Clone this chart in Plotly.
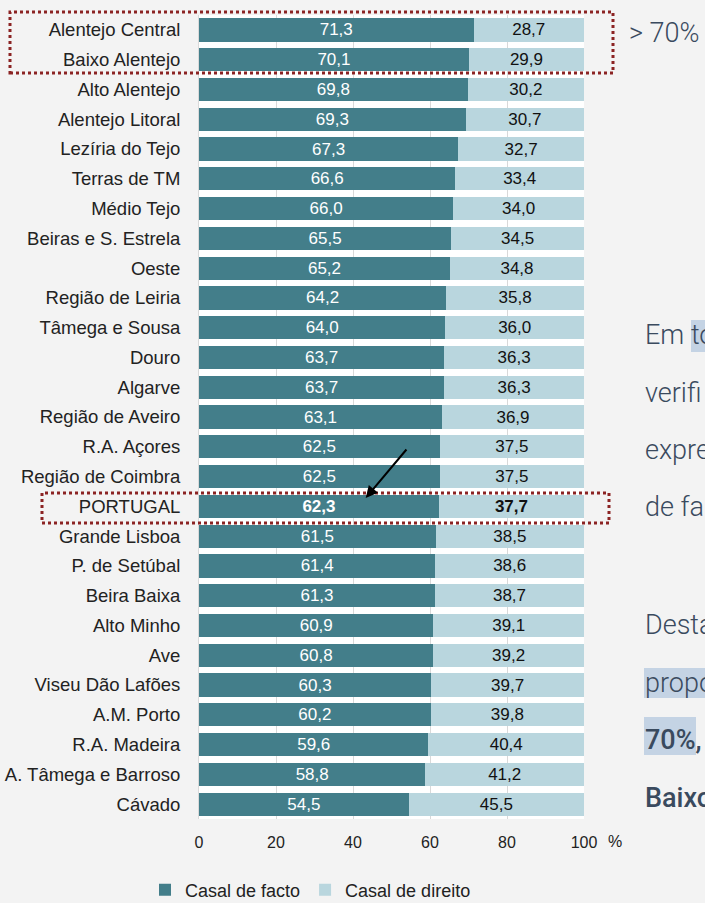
import plotly.graph_objects as go

regions = ["Alentejo Central", "Baixo Alentejo", "Alto Alentejo", "Alentejo Litoral",
           "Lezíria do Tejo", "Terras de TM", "Médio Tejo", "Beiras e S. Estrela", "Oeste",
           "Região de Leiria", "Tâmega e Sousa", "Douro", "Algarve", "Região de Aveiro",
           "R.A. Açores", "Região de Coimbra", "PORTUGAL", "Grande Lisboa", "P. de Setúbal",
           "Beira Baixa", "Alto Minho", "Ave", "Viseu Dão Lafões", "A.M. Porto",
           "R.A. Madeira", "A. Tâmega e Barroso", "Cávado"]
facto = [71.3, 70.1, 69.8, 69.3, 67.3, 66.6, 66.0, 65.5, 65.2, 64.2, 64.0, 63.7, 63.7, 63.1,
         62.5, 62.5, 62.3, 61.5, 61.4, 61.3, 60.9, 60.8, 60.3, 60.2, 59.6, 58.8, 54.5]
direito = [28.7, 29.9, 30.2, 30.7, 32.7, 33.4, 34.0, 34.5, 34.8, 35.8, 36.0, 36.3, 36.3, 36.9,
           37.5, 37.5, 37.7, 38.5, 38.6, 38.7, 39.1, 39.2, 39.7, 39.8, 40.4, 41.2, 45.5]
tick_vals = [0, 20, 40, 60, 80, 100]
series_names = ["Casal de facto", "Casal de direito"]

DARK = "#437e8a"
LIGHT = "#b9d6de"
BG = "#f3f3f3"
RED = "#8b2323"
TXT = "#3a4a5e"
HL = "#c4d3e4"

W, H = 705, 903
ML, MR, MT, MB = 199, 121, 15, 84
PW, PH = W - ML - MR, H - MT - MB


def px_x(px):
    return (px - ML) / PW


def px_y(py):
    return (H - MB - py) / PH


def fmt(v, name):
    s = f"{v:.1f}".replace(".", ",")
    return f"<b>{s}</b>" if name == "PORTUGAL" else s


fig = go.Figure()
fig.add_trace(go.Bar(
    y=regions, x=facto, orientation="h", name=series_names[0],
    marker=dict(color=DARK, line=dict(width=0)),
    text=[fmt(v, r) for v, r in zip(facto, regions)], textposition="inside",
    insidetextanchor="middle", constraintext="none",
    textfont=dict(color="white", size=17, family="Liberation Sans"),
    hoverinfo="skip",
))
fig.add_trace(go.Bar(
    y=regions, x=direito, orientation="h", name=series_names[1],
    marker=dict(color=LIGHT, line=dict(width=0)),
    text=[fmt(v, r) for v, r in zip(direito, regions)], textposition="inside",
    insidetextanchor="middle", constraintext="none",
    textfont=dict(color="#111111", size=17, family="Liberation Sans"),
    hoverinfo="skip",
))

shapes = [
    dict(type="rect", xref="paper", yref="paper", x0=px_x(10), x1=px_x(613),
         y0=px_y(73), y1=px_y(12), line=dict(color=RED, width=3, dash="dot"), layer="above"),
    dict(type="rect", xref="paper", yref="paper", x0=px_x(42), x1=px_x(609),
         y0=px_y(523), y1=px_y(493), line=dict(color=RED, width=3, dash="dot"), layer="above"),
]
# text highlight boxes on the right-hand slide text
for x0, x1, y0, y1 in [(691, 706, 320, 352), (644, 706, 668, 698), (644, 696, 717, 755)]:
    shapes.append(dict(type="rect", xref="paper", yref="paper", x0=px_x(x0), x1=px_x(x1),
                       y0=px_y(y1), y1=px_y(y0), line=dict(width=0), fillcolor=HL,
                       layer="below"))

annotations = [
    dict(xref="paper", yref="paper", x=px_x(627), y=px_y(33), text="&gt; 70%", showarrow=False,
         xanchor="left", yanchor="middle", font=dict(size=27, color=TXT, family="Roboto", weight=300)),
    dict(xref="paper", yref="paper", x=px_x(606), y=px_y(841), text="%",
         showarrow=False, xanchor="left", yanchor="middle",
         font=dict(size=16, color="#222222", family="Liberation Sans")),
    dict(x=43.3, y=15.72, xref="x", yref="y", ax=42, ay=-50, text="", showarrow=True,
         arrowhead=2, arrowsize=1.2, arrowwidth=2, arrowcolor="black"),
]

# Right side slide text (the reference shows only the beginning of each line)
tf = dict(size=27, color=TXT, family="Roboto", weight=300)
tfb = dict(size=27, color=TXT, family="Roboto", weight=500)
lines = [
    (335, "Em to", tf),
    (393, "verifi", tf),
    (450, "expre", tf),
    (507, "de fa", tf),
    (625, "Desta", tf),
    (683, "propo", tf),
    (740, "70%,", tfb),
    (798, "Baixo", tfb),
]
for ypx, txt, f in lines:
    annotations.append(dict(xref="paper", yref="paper", x=px_x(644), y=px_y(ypx),
                            text=txt, showarrow=False, xanchor="left", yanchor="middle",
                            font=f, borderpad=0))

fig.update_layout(
    width=W, height=H,
    barmode="stack", bargap=0.22,
    paper_bgcolor=BG, plot_bgcolor="white",
    margin=dict(l=ML, r=MR, t=MT, b=MB, autoexpand=False),
    font=dict(family="Liberation Sans", size=16, color="#222222"),
    xaxis=dict(range=[0, 100], tickvals=tick_vals, showgrid=True, gridcolor="#d9d9d9",
               gridwidth=1, zeroline=False, showline=False, ticks="", ticklabelstandoff=12,
               tickfont=dict(size=16, color="#222222"), fixedrange=True),
    yaxis=dict(autorange="reversed", tickfont=dict(size=18.5, color="#222222"),
               ticks="", showgrid=False, ticklabelstandoff=14, fixedrange=True,
               showline=True, linecolor="#d9d9d9"),
    legend=dict(orientation="h", xref="container", yref="container",
                x=145 / W, xanchor="left", y=(H - 890) / H, yanchor="middle",
                font=dict(size=18, color="#222222"), bgcolor="rgba(0,0,0,0)",
                itemwidth=30, traceorder="normal", tracegroupgap=0),
    shapes=shapes,
    annotations=annotations,
)

fig.write_html("out.html", config={"displayModeBar": False},
               post_script="document.body.style.margin='0';document.body.style.background='#f3f3f3';")
